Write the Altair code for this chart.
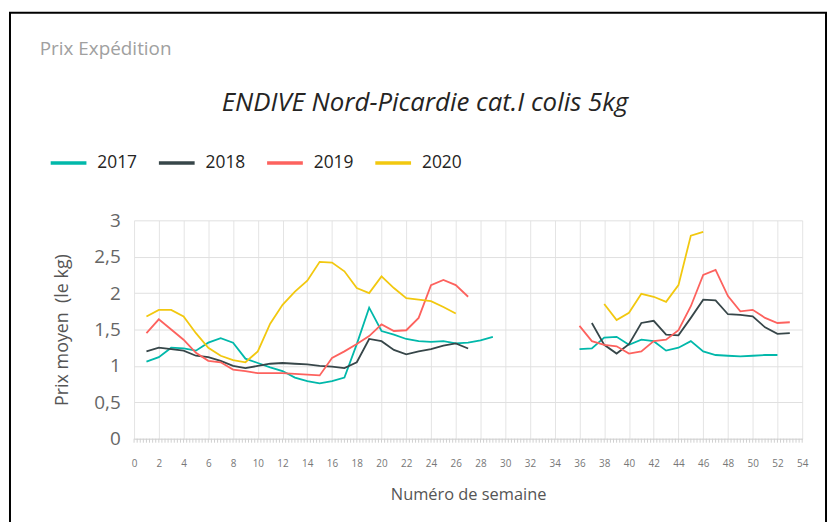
import altair as alt
import pandas as pd

years = ["2017", "2018", "2019", "2020"]
colors = ["#01B8AA", "#374649", "#FD625E", "#F2C80F"]

# first half of the season
weeks_2017_a = list(range(1, 30))
vals_2017_a = [1.06, 1.12, 1.25, 1.24, 1.21, 1.32, 1.38, 1.32, 1.10, 1.04,
               0.98, 0.93, 0.84, 0.79, 0.76, 0.79, 0.84, 1.30, 1.80, 1.48,
               1.43, 1.37, 1.34, 1.33, 1.34, 1.31, 1.32, 1.35, 1.40]
weeks_2018_a = list(range(1, 28))
vals_2018_a = [1.20, 1.25, 1.23, 1.21, 1.14, 1.12, 1.07, 1.00, 0.97, 1.00,
               1.03, 1.04, 1.03, 1.02, 1.00, 0.99, 0.97, 1.05, 1.37, 1.34,
               1.22, 1.16, 1.20, 1.23, 1.28, 1.31, 1.24]
weeks_2019_a = list(range(1, 28))
vals_2019_a = [1.45, 1.64, 1.50, 1.36, 1.18, 1.07, 1.05, 0.95, 0.93, 0.90,
               0.90, 0.90, 0.89, 0.88, 0.87, 1.11, 1.20, 1.30, 1.41, 1.57,
               1.48, 1.49, 1.66, 2.11, 2.18, 2.11, 1.95]
weeks_2020_a = list(range(1, 27))
vals_2020_a = [1.68, 1.77, 1.77, 1.68, 1.45, 1.25, 1.14, 1.08, 1.05, 1.20,
               1.58, 1.84, 2.02, 2.17, 2.43, 2.42, 2.30, 2.07, 2.00, 2.23,
               2.07, 1.93, 1.91, 1.89, 1.81, 1.72]

# second half of the season
weeks_2017_b = list(range(36, 53))
vals_2017_b = [1.23, 1.24, 1.39, 1.40, 1.29, 1.36, 1.34, 1.21, 1.25, 1.34,
               1.20, 1.15, 1.14, 1.13, 1.14, 1.15, 1.15]
weeks_2018_b = list(range(37, 54))
vals_2018_b = [1.59, 1.29, 1.17, 1.30, 1.59, 1.62, 1.43, 1.42, 1.66, 1.91,
               1.90, 1.71, 1.70, 1.68, 1.53, 1.44, 1.45]
weeks_2019_b = list(range(36, 54))
vals_2019_b = [1.55, 1.34, 1.29, 1.27, 1.17, 1.20, 1.34, 1.36, 1.49, 1.82,
               2.25, 2.32, 1.96, 1.75, 1.77, 1.66, 1.59, 1.60]
weeks_2020_b = list(range(38, 47))
vals_2020_b = [1.85, 1.63, 1.73, 1.99, 1.95, 1.88, 2.11, 2.79, 2.84]

x_label_values = list(range(0, 55, 2))
y_label_values = [0, 0.5, 1, 1.5, 2, 2.5, 3]
minor_ticks = [i * 0.25 for i in range(0, 217)]

series = [
    ("2017", "a", weeks_2017_a, vals_2017_a), ("2017", "b", weeks_2017_b, vals_2017_b),
    ("2018", "a", weeks_2018_a, vals_2018_a), ("2018", "b", weeks_2018_b, vals_2018_b),
    ("2019", "a", weeks_2019_a, vals_2019_a), ("2019", "b", weeks_2019_b, vals_2019_b),
    ("2020", "a", weeks_2020_a, vals_2020_a), ("2020", "b", weeks_2020_b, vals_2020_b),
]
rows = []
for yr, seg, ws, vs in series:
    for w, v in zip(ws, vs):
        rows.append({"year": yr, "seg": yr + seg, "week": w, "price": v})
df = pd.DataFrame(rows)

FONT = "Open Sans"
W, H = 673, 220

xscale = alt.Scale(domain=[0, 54], nice=False, zero=False)
yscale = alt.Scale(domain=[0, 3], nice=False)

lines = alt.Chart(df).mark_line(strokeWidth=1.8).encode(
    x=alt.X("week:Q", scale=xscale,
            axis=alt.Axis(values=x_label_values, title="Numéro de semaine",
                          titleFontSize=16.5, titleFont=FONT, titleFontWeight="normal",
                          titleColor="#555555", titlePadding=18,
                          labelFontSize=10, labelFont=FONT, labelColor="#777777",
                          labelPadding=20, ticks=False, domain=True,
                          domainColor="#d8d8d8", grid=True, gridColor="#e4e4e4",
                          labelOverlap=False, labelFlush=False)),
    y=alt.Y("price:Q", scale=yscale,
            axis=alt.Axis(values=y_label_values,
                          labelExpr="replace(format(datum.value, '~g'), '.', ',')",
                          title="Prix moyen\u00a0 (le kg)", titleFontSize=18,
                          titleFont=FONT, titleFontWeight="normal", titleColor="#555555",
                          titlePadding=22, labelFontSize=19, labelFont=FONT,
                          labelColor="#666666", labelPadding=14, ticks=False,
                          domain=False, grid=True, gridColor="#e0e0e0")),
    color=alt.Color("year:N", scale=alt.Scale(domain=years, range=colors),
                    legend=alt.Legend(title=None, orient="none", legendX=-86, legendY=-78,
                                      direction="horizontal", symbolType="stroke",
                                      symbolStrokeWidth=3.5, symbolSize=1296,
                                      labelFontSize=17.5, labelFont=FONT,
                                      labelColor="#252423", labelOffset=9,
                                      columnPadding=14, padding=0)),
    detail="seg:N",
)

tick_df = pd.DataFrame({"t": minor_ticks})
minor = alt.Chart(tick_df).mark_rule(color="#d0d0d0", strokeWidth=1).encode(
    x=alt.X("t:Q", scale=xscale, axis=None),
    y=alt.value(H), y2=alt.value(H + 4),
)

header = alt.Chart(pd.DataFrame({"t": ["Prix Expédition"]})).mark_text(
    font=FONT, fontSize=19, color="#a0a0a0", align="left", baseline="middle"
).encode(text="t:N", x=alt.value(-95), y=alt.value(-173))

title = alt.Chart(pd.DataFrame({"t": ["ENDIVE Nord-Picardie cat.I colis 5kg"]})).mark_text(
    font=FONT, fontSize=26, fontStyle="italic", color="#252423", align="center",
    baseline="middle"
).encode(text="t:N", x=alt.value(293), y=alt.value(-118))

frame = alt.Chart(pd.DataFrame({"a": [0]})).mark_rect(
    fill=None, stroke="#000000", strokeWidth=2
).encode(x=alt.value(-125), x2=alt.value(697), y=alt.value(-209), y2=alt.value(330))

chart = alt.layer(lines, minor, header, title, frame).resolve_axis(
    x="independent"
).properties(
    width=W, height=H,
    autosize=alt.AutoSizeParams(type="none"),
    padding={"left": 127, "top": 212, "right": 26, "bottom": 82},
    background="white",
).configure_view(stroke=None)

chart.save("out.html", embed_options={"renderer": "svg", "actions": False})
